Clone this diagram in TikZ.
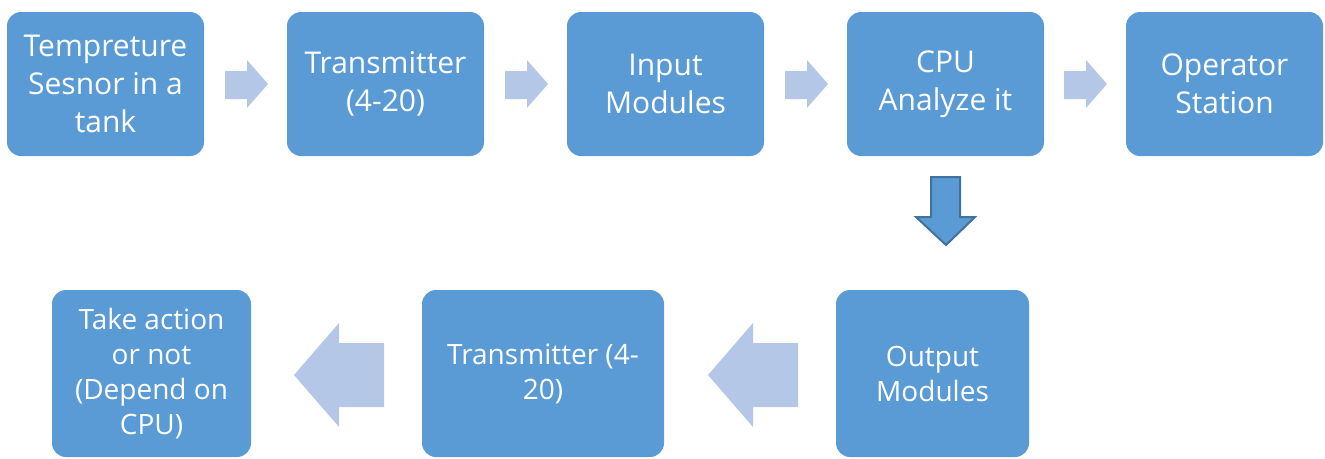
\documentclass[tikz,border=0pt]{standalone}
\usepackage{fontspec}
\setmainfont{Open Sans}
\begin{document}
\begin{tikzpicture}[x=1pt,y=-1pt,
  box/.style={fill=boxblue, rounded corners=14pt, text=white, align=center, inner sep=0pt},
  topbox/.style={box, minimum width=197pt, minimum height=144pt, font=\fontsize{30}{38}\selectfont},
  bottext/.style={font=\fontsize{28}{35}\selectfont},
  lightarrow/.style={fill=arrowlight, draw=none},
  darkarrow/.style={fill=boxblue, draw=arrowborder, line width=2pt, line join=miter}]
\definecolor{boxblue}{HTML}{5B9BD5}
\definecolor{arrowlight}{HTML}{B4C7E7}
\definecolor{arrowborder}{HTML}{41719C}
\useasboundingbox (0,0) rectangle (1325,458);
% top row boxes
\node[topbox] (t1) at (105.5,84) {Tempreture\\Sesnor in a\\tank};
\node[topbox] (t2) at (385.5,84) {Transmitter\\(4-20)};
\node[topbox] (t3) at (665.5,84) {Input\\Modules};
\node[topbox] (t4) at (945.5,84) {CPU\\Analyze it};
\node[topbox] (t5) at (1224.5,84) {Operator\\Station};
% top arrows
\foreach \x in {225, 505, 785, 1064}{
  \path[lightarrow] (\x,71) -- (\x+22,71) -- (\x+22,60) -- (\x+43,84) -- (\x+22,108) -- (\x+22,99) -- (\x,99) -- cycle;
}
% down arrow
\path[darkarrow] (931,177) -- (960,177) -- (960,217) -- (975,217) -- (946,245) -- (916,217) -- (931,217) -- cycle;
% bottom boxes
\node[box, bottext, minimum width=199pt, minimum height=167pt] (ba) at (151.5,373.5) {Take action\\or not\\(Depend on\\CPU)};
\node[box, bottext, minimum width=242pt, minimum height=167pt] (bb) at (543,373.5) {Transmitter (4-\\20)};
\node[box, bottext, minimum width=193pt, minimum height=167pt] (bc) at (932.5,373.5) {Output\\Modules};
% bottom arrows
\foreach \x in {384, 798}{
  \path[lightarrow] (\x,343) -- (\x-45,343) -- (\x-45,323) -- (\x-90,375) -- (\x-45,427) -- (\x-45,407) -- (\x,407) -- cycle;
}
\end{tikzpicture}
\end{document}
